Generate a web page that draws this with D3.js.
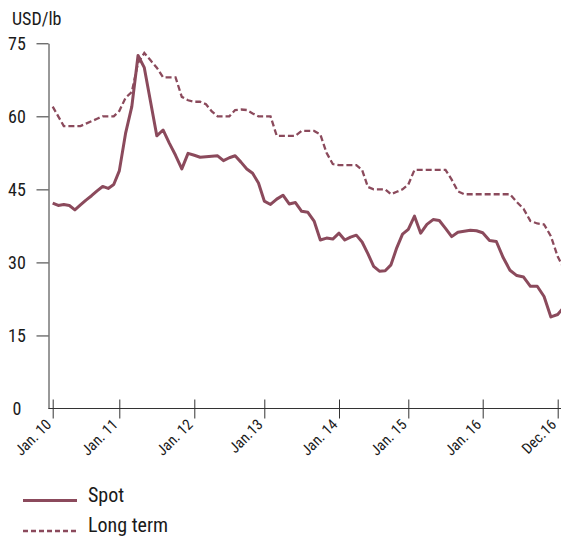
<!DOCTYPE html>
<html>
<head>
<meta charset="utf-8">
<script src="https://cdn.jsdelivr.net/npm/d3@7"></script>
<style>
  body { margin: 0; background: #fff; }
  svg { display: block; }
  text { font-family: "Liberation Sans Narrow", "Roboto Condensed", "DejaVu Sans Condensed", "Arial Narrow", sans-serif; fill: #1a1a1a; }
</style>
</head>
<body>
<div id="chart"></div>
<script>
// monthly prices, Jan 2010 .. Jan 2017 (USD/lb)
var spotPrice = [
  42.2, 41.7, 41.9, 41.7, 40.8, 41.8, 42.8, 43.7, 44.7, 45.6, 45.2, 46.0,   // 2010
  48.8, 56.5, 62.0, 72.5, 70.0, 63.0, 56.0, 57.2, 54.5, 52.0, 49.2, 52.4,   // 2011
  52.0, 51.6, 51.7, 51.8, 51.9, 50.9, 51.5, 51.9, 50.6, 49.2, 48.3, 46.3,   // 2012
  42.6, 41.9, 43.0, 43.8, 42.0, 42.3, 40.5, 40.3, 38.5, 34.6, 35.0, 34.8,   // 2013
  36.0, 34.6, 35.2, 35.6, 34.2, 31.8, 29.2, 28.2, 28.3, 29.5, 33.0, 35.8,   // 2014
  36.8, 39.5, 36.0, 37.8, 38.8, 38.6, 37.0, 35.3, 36.2, 36.4, 36.6, 36.5,   // 2015
  36.1, 34.5, 34.3, 31.0, 28.4, 27.3, 27.0, 25.1, 25.1, 23.0, 18.8, 19.3,   // 2016
  21.0
];
var longTermPrice = [
  62.0, 60.0, 58.0, 58.0, 58.0, 58.0, 58.5, 59.0, 59.5, 60.0, 60.0, 60.0,   // 2010
  61.1, 63.8, 65.0, 71.0, 73.0, 71.5, 70.0, 68.0, 68.0, 68.0, 64.0, 63.3,   // 2011
  63.0, 63.0, 62.5, 61.0, 60.0, 60.0, 60.0, 61.3, 61.4, 61.3, 60.6, 60.0,   // 2012
  60.0, 60.0, 56.0, 56.0, 56.0, 56.0, 57.0, 57.0, 57.0, 56.3, 52.5, 50.2,   // 2013
  50.0, 50.0, 50.0, 50.0, 49.0, 45.5, 45.0, 45.0, 45.0, 44.0, 44.5, 45.0,   // 2014
  46.0, 49.0, 49.0, 49.0, 49.0, 49.0, 49.0, 47.0, 44.6, 44.0, 44.0, 44.0,   // 2015
  44.0, 44.0, 44.0, 44.0, 44.0, 42.4, 41.0, 38.5, 38.0, 37.8, 35.4, 31.2,   // 2016
  28.5
];
var tickMonths = [0, 12, 24, 36, 48, 60, 72, 83];
var tickLabels = ["Jan. 10", "Jan. 11", "Jan. 12", "Jan.13", "Jan. 14", "Jan. 15", "Jan. 16", "Dec.16"];
var yTicks = [0, 15, 30, 45, 60, 75];
var seriesNames = ["Spot", "Long term"];

var width = 561,
    height = 536,
    axisX = 48.5,
    axisY = 408.5,
    lineColor = "#8b4a5c";

// the year ticks on the original are not evenly spaced, so the month scale is piecewise
var tickPos = [52.7, 119.3, 194.3, 264.3, 339, 408.3, 482.7, 557.7];

var svg = d3.select("#chart").append("svg")
    .attr("width", width)
    .attr("height", height);

var x = d3.scaleLinear().domain(tickMonths).range(tickPos);
var y = d3.scaleLinear().domain([0, 75]).range([axisY, 43.3]);

// y axis
var yAxisG = svg.append("g")
    .attr("transform", `translate(${axisX},0)`)
    .call(d3.axisLeft(y).tickValues(yTicks).tickSize(12).tickSizeOuter(0));
yAxisG.select(".domain").attr("stroke", "#333");
yAxisG.selectAll(".tick line").attr("stroke", "#333")
    .filter(d => d === 0).remove();
yAxisG.selectAll(".tick text")
    .attr("x", 17 - axisX)
    .style("text-anchor", "middle")
    .style("font-size", "18px")
    .attr("fill", "#1a1a1a");

// unit label
svg.append("text")
    .attr("x", 12)
    .attr("y", 25)
    .style("font-size", "18px")
    .text("USD/lb");

// x axis, ticks cross the line
svg.append("line")
    .attr("x1", axisX).attr("x2", width)
    .attr("y1", axisY).attr("y2", axisY)
    .attr("stroke", "#333");
var xAxisG = svg.append("g")
    .attr("transform", `translate(0,${axisY})`)
    .call(d3.axisBottom(x).tickValues(tickMonths).tickFormat((d, i) => tickLabels[i]));
xAxisG.select(".domain").remove();
xAxisG.selectAll(".tick line")
    .attr("y1", -9)
    .attr("y2", 10)
    .attr("stroke", "#333");
xAxisG.selectAll(".tick text")
    .attr("x", 0).attr("y", 0).attr("dy", 0)
    .attr("transform", "translate(-1,17) rotate(-45)")
    .style("text-anchor", "end")
    .style("font-size", "15px")
    .attr("fill", "#1a1a1a");

// price lines
var line = d3.line()
    .x((d, i) => x(i))
    .y(d => y(d));

svg.append("path")
    .datum(longTermPrice)
    .attr("fill", "none")
    .attr("stroke", lineColor)
    .attr("stroke-width", 2.3)
    .attr("stroke-dasharray", "6,3")
    .attr("d", line);

svg.append("path")
    .datum(spotPrice)
    .attr("fill", "none")
    .attr("stroke", lineColor)
    .attr("stroke-width", 3)
    .attr("stroke-linejoin", "round")
    .attr("d", line);

// legend
var legend = svg.selectAll(".legendItem")
    .data(seriesNames)
    .enter().append("g")
    .attr("class", "legendItem")
    .attr("transform", (d, i) => `translate(0,${500.5 + i * 30.5})`);

legend.append("line")
    .attr("x1", 23).attr("x2", 77)
    .attr("stroke", lineColor)
    .attr("stroke-width", (d, i) => i ? 2.3 : 3)
    .attr("stroke-dasharray", (d, i) => i ? "5,3" : null);

legend.append("text")
    .attr("x", 88)
    .attr("y", 1)
    .style("font-size", "20px")
    .text(d => d);
</script>
</body>
</html>
